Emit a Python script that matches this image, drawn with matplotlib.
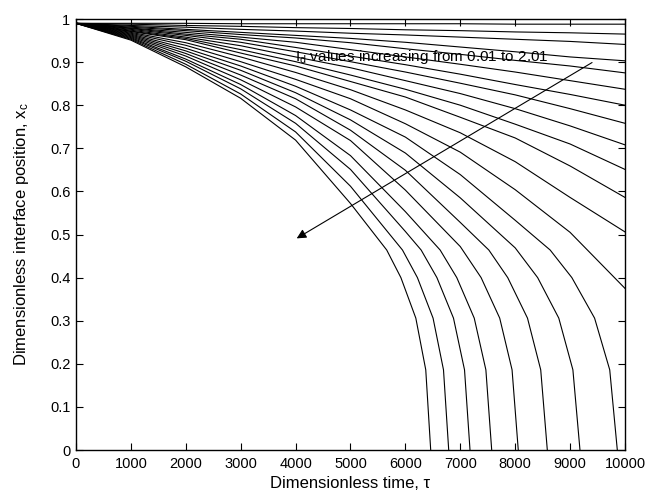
# -*- coding: utf-8 -*-
import numpy as np
import matplotlib
matplotlib.use('Agg')
import matplotlib.pyplot as plt

plt.rcParams['font.family'] = ['Liberation Sans', 'DejaVu Sans']
plt.rcParams['mathtext.fontset'] = 'custom'
plt.rcParams['mathtext.rm'] = 'Liberation Sans'
plt.rcParams['mathtext.it'] = 'Liberation Sans:italic'

################################ DATA ####################################
# common time grid for the curves that reach tau = 10000
tau = [0, 1000, 2000, 3000, 4000, 5000, 6000, 7000, 8000, 9000, 10000]

# curves ending at the right edge (small Id at the top)
y_top = [
    [.990, .990, .990, .989, .989, .989, .989, .989, .988, .988, .988],
    [.990, .988, .985, .983, .980, .978, .975, .973, .970, .968, .965],
    [.990, .985, .981, .976, .972, .967, .963, .958, .953, .948, .941],
    [.990, .983, .976, .969, .962, .955, .946, .935, .924, .912, .903],
    [.990, .981, .973, .964, .956, .945, .931, .918, .904, .891, .875],
    [.990, .979, .969, .958, .946, .929, .912, .895, .877, .857, .837],
    [.990, .978, .965, .953, .934, .914, .894, .872, .848, .825, .800],
    [.990, .976, .962, .946, .924, .901, .877, .851, .824, .792, .758],
    [.990, .974, .958, .938, .912, .887, .857, .827, .792, .752, .708],
    [.990, .972, .955, .929, .901, .870, .837, .800, .756, .710, .651],
    [.990, .971, .952, .921, .891, .855, .819, .772, .724, .659, .586],
    [.990, .969, .945, .912, .876, .836, .789, .736, .669, .586, .506],
    [.990, .967, .939, .901, .860, .815, .757, .691, .604, .505, .375],
]

# curves that reach x_c = 0 before tau = 10000 (large Id)
tau_bot = [
    [0, 1000, 2000, 3000, 4000, 5000, 6000, 7000, 8000, 8637, 9032, 9446, 9722, 9860],
    [0, 1000, 2000, 3000, 4000, 5000, 6000, 7000, 8000, 8409, 8794, 9051, 9180],
    [0, 1000, 2000, 3000, 4000, 5000, 6000, 7000, 7520, 7864, 8224, 8465, 8585],
    [0, 1000, 2000, 3000, 4000, 5000, 6000, 7000, 7379, 7718, 7943, 8056],
    [0, 1000, 2000, 3000, 4000, 5000, 6000, 6633, 6936, 7254, 7466, 7572],
    [0, 1000, 2000, 3000, 4000, 5000, 6000, 6287, 6574, 6876, 7077, 7177],
    [0, 1000, 2000, 3000, 4000, 5000, 5947, 6219, 6504, 6694, 6789],
    [0, 1000, 2000, 3000, 4000, 5000, 5660, 5918, 6190, 6371, 6461],
]
y_bot = [
    [.990, .965, .932, .891, .844, .789, .726, .639, .533, .464, .400, .306, .186, 0],
    [.990, .963, .926, .881, .829, .766, .689, .585, .469, .400, .306, .186, 0],
    [.990, .961, .920, .870, .815, .742, .649, .528, .464, .400, .306, .186, 0],
    [.990, .959, .914, .859, .796, .718, .603, .472, .400, .306, .186, 0],
    [.990, .957, .907, .848, .776, .683, .553, .464, .400, .306, .186, 0],
    [.990, .955, .902, .838, .758, .651, .507, .464, .400, .306, .186, 0],
    [.990, .953, .895, .826, .738, .612, .464, .400, .306, .186, 0],
    [.990, .951, .889, .816, .719, .572, .464, .400, .306, .186, 0],
]

xticks = [0, 1000, 2000, 3000, 4000, 5000, 6000, 7000, 8000, 9000, 10000]
yticks = [0, 0.1, 0.2, 0.3, 0.4, 0.5, 0.6, 0.7, 0.8, 0.9, 1]
ytick_labels = ['0', '0.1', '0.2', '0.3', '0.4', '0.5', '0.6', '0.7', '0.8', '0.9', '1']
##########################################################################

fig = plt.figure(figsize=(6.59, 4.95), dpi=100)
ax = fig.add_axes([0.1153, 0.0909, 0.8331, 0.8707])

for y in y_top:
    ax.plot(tau, y, color='black', lw=0.8, zorder=2)
for t, y in zip(tau_bot, y_bot):
    ax.plot(t, y, color='black', lw=0.8, zorder=2)

# label sits under the curves like in the matlab figure
ax.text(3990, 0.912, r'I$_{\rm d}$ values increasing from 0.01 to 2.01',
        fontsize=11, va='center', ha='left', zorder=1)
ax.annotate('', xy=(4020, 0.491), xytext=(9400, 0.899),
            arrowprops=dict(arrowstyle='-|>', color='black', lw=0.8,
                            mutation_scale=14, shrinkA=0, shrinkB=0),
            zorder=4)

ax.set_xlim(0, 10000)
ax.set_ylim(0, 1)
ax.set_xticks(xticks)
ax.set_yticks(yticks)
ax.set_yticklabels(ytick_labels)
ax.tick_params(direction='in', top=True, right=True, length=5, width=0.8,
               labelsize=10.5)
ax.tick_params(axis='x', pad=5)
ax.tick_params(axis='y', pad=4)
for s in ax.spines.values():
    s.set_linewidth(1.0)

ax.set_xlabel('Dimensionless time, τ', fontsize=12, va='center')
ax.set_ylabel(r'Dimensionless interface position, x$_{\rm c}$', fontsize=12, va='center')
ax.xaxis.set_label_coords(0.5, -0.077)
ax.yaxis.set_label_coords(-0.100, 0.5)

plt.savefig('out.png', dpi=100)
